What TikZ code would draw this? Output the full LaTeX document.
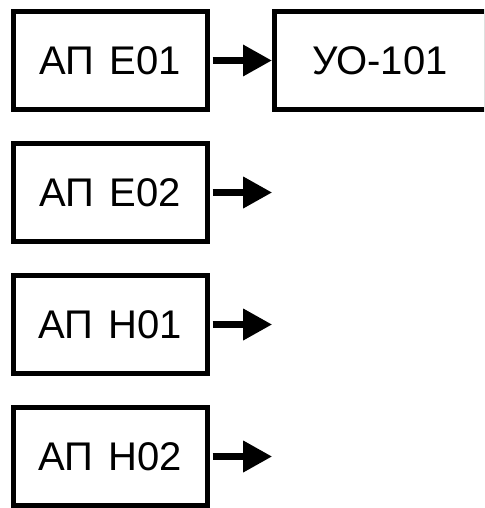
\documentclass[tikz,border=0pt]{standalone}
\usepackage{fontspec}
\setmainfont{Liberation Sans}
\begin{document}
\begin{tikzpicture}[x=1pt,y=1pt,
  box/.style={draw, line width=5pt, minimum width=193.5pt, minimum height=98pt,
    inner sep=0pt, font=\fontsize{40}{48}\selectfont},
  shaft/.style={line width=7pt},
  head/.style={fill=black}]
\useasboundingbox (0,0) rectangle (484,-508);
\clip (0,0) rectangle (484,-508);
\node[box] (e01) at (110.25,-60.5) {АП\hspace{4pt} Е01};
\node[box] (e02) at (110.25,-192.5) {АП\hspace{4pt} Е02};
\node[box] (h01) at (110.25,-324.5) {АП\hspace{4pt} Н01};
\node[box] (h02) at (110.25,-456.5) {АП\hspace{4pt} Н02};
\node[box, minimum width=212pt] (uo) at (380,-60.5) {УО-101};
\coordinate (t1) at (uo.west);
\coordinate (t2) at (271.7,-192.5);
\coordinate (t3) at (271.7,-324.5);
\coordinate (t4) at (271.7,-456.5);
\foreach \s/\t in {e01/t1,e02/t2,h01/t3,h02/t4}{
  \draw[shaft] ([xshift=3pt]\s.east) -- ([xshift=-27pt]\t);
  \fill[head] (\t) -- ([shift={(-28.5pt,16pt)}]\t) -- ([shift={(-28.5pt,-16pt)}]\t) -- cycle;
}
\end{tikzpicture}
\end{document}
